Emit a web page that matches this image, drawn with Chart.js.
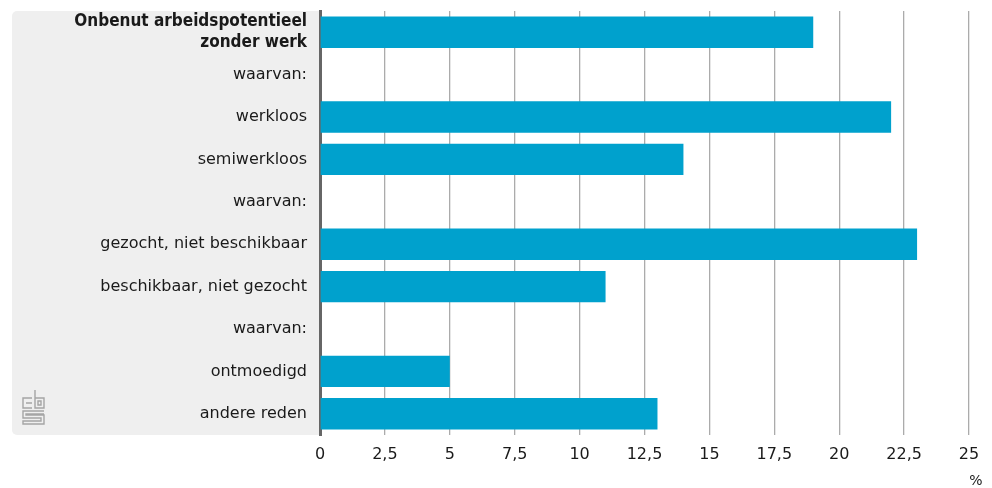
<!DOCTYPE html>
<html lang="nl">
<head>
    <meta charset="UTF-8">
    <title>Onbenut arbeidspotentieel zonder werk</title>
    <script src="https://cdn.jsdelivr.net/npm/chart.js"></script>
    <style>
        body {
            margin: 0;
            padding: 0;
            background: white;
        }
        #wrap {
            width: 992px;
            height: 488px;
        }
    </style>
</head>
<body>
    <div id="wrap">
        <canvas id="chart" width="992" height="488"></canvas>
    </div>
    <script>
        const categories = [
            ["Onbenut arbeidspotentieel", "zonder werk"],
            "waarvan:",
            "werkloos",
            "semiwerkloos",
            "waarvan:",
            "gezocht, niet beschikbaar",
            "beschikbaar, niet gezocht",
            "waarvan:",
            "ontmoedigd",
            "andere reden"
        ];
        const values = [19, null, 22, 14, null, 23, 11, null, 5, 13];
        const xTicks = [0, 2.5, 5, 7.5, 10, 12.5, 15, 17.5, 20, 22.5, 25];
        const unitLabel = "%";

        const fontFamily = "'DejaVu Sans', sans-serif";
        const boldFamily = "'DejaVu Sans Condensed', 'DejaVu Sans', sans-serif";

        // grey panel behind the category labels, plus the logo and unit
        const panelPlugin = {
            id: 'panel',
            beforeDraw(chart) {
                const { ctx, chartArea } = chart;
                ctx.save();
                ctx.fillStyle = '#efefef';
                ctx.beginPath();
                ctx.roundRect(12, chartArea.top, chartArea.left - 12, chartArea.bottom - chartArea.top, [5, 0, 0, 5]);
                ctx.fill();

                // small cbs logo (c, b and a maze-like S)
                ctx.strokeStyle = '#a5a5a5';
                ctx.lineWidth = 1.4;
                const lx = 23, ly = 390;
                ctx.beginPath();
                // c
                ctx.moveTo(lx + 9, ly + 8); ctx.lineTo(lx, ly + 8); ctx.lineTo(lx, ly + 18); ctx.lineTo(lx + 9, ly + 18);
                ctx.moveTo(lx + 3, ly + 13); ctx.lineTo(lx + 9, ly + 13);
                // b
                ctx.moveTo(lx + 12, ly); ctx.lineTo(lx + 12, ly + 18); ctx.lineTo(lx + 21, ly + 18);
                ctx.lineTo(lx + 21, ly + 8); ctx.lineTo(lx + 12, ly + 8);
                ctx.rect(lx + 15, ly + 11, 3, 4);
                // S
                ctx.moveTo(lx + 21, ly + 21); ctx.lineTo(lx, ly + 21); ctx.lineTo(lx, ly + 28);
                ctx.lineTo(lx + 18, ly + 28); ctx.lineTo(lx + 18, ly + 31); ctx.lineTo(lx, ly + 31);
                ctx.lineTo(lx, ly + 34); ctx.lineTo(lx + 21, ly + 34); ctx.lineTo(lx + 21, ly + 25);
                ctx.lineTo(lx + 3, ly + 25); ctx.lineTo(lx + 3, ly + 24); ctx.lineTo(lx + 21, ly + 24);
                ctx.stroke();
                ctx.restore();
            },
            afterDraw(chart) {
                const { ctx } = chart;
                const x = chart.scales.x;
                ctx.save();
                ctx.fillStyle = '#1a1a1a';
                ctx.font = "14px " + fontFamily;
                ctx.textAlign = 'center';
                ctx.textBaseline = 'middle';
                ctx.fillText(unitLabel, x.getPixelForValue(25) + 7, 481);
                ctx.restore();
            }
        };

        new Chart(document.getElementById('chart'), {
            type: 'bar',
            data: {
                labels: categories,
                datasets: [{
                    data: values,
                    backgroundColor: '#00a1cd',
                    borderWidth: 0,
                    barPercentage: 0.74,
                    categoryPercentage: 1
                }]
            },
            options: {
                indexAxis: 'y',
                responsive: false,
                animation: false,
                layout: { padding: { top: 11, right: 23, left: 0, bottom: 0 } },
                plugins: {
                    legend: { display: false },
                    tooltip: { enabled: false }
                },
                scales: {
                    x: {
                        min: 0,
                        max: 25,
                        afterBuildTicks(scale) {
                            scale.ticks = xTicks.map(v => ({ value: v }));
                        },
                        afterFit(scale) { scale.height = 53; },
                        grid: {
                            color: ctx => ctx.tick && ctx.tick.value === 0 ? 'rgba(0,0,0,0)' : '#ababab',
                            lineWidth: 1.3,
                            drawTicks: false
                        },
                        border: { display: false },
                        ticks: {
                            padding: 10,
                            autoSkip: false,
                            maxRotation: 0,
                            color: '#1a1a1a',
                            font: { family: fontFamily, size: 16 },
                            callback: v => String(v).replace('.', ',')
                        }
                    },
                    y: {
                        afterFit(scale) {
                            scale.width = 320;
                            scale.paddingTop = 0;
                            scale.paddingBottom = 0;
                        },
                        grid: { display: false, drawTicks: false },
                        border: { display: true, color: '#666666', width: 3 },
                        ticks: {
                            padding: 13,
                            autoSkip: false,
                            color: '#1a1a1a',
                            font: ctx => ctx.index === 0
                                ? { family: boldFamily, size: 17, weight: 'bold', lineHeight: 1.25 }
                                : { family: fontFamily, size: 16, lineHeight: 1.25 }
                        }
                    }
                }
            },
            plugins: [panelPlugin]
        });
    </script>
</body>
</html>
